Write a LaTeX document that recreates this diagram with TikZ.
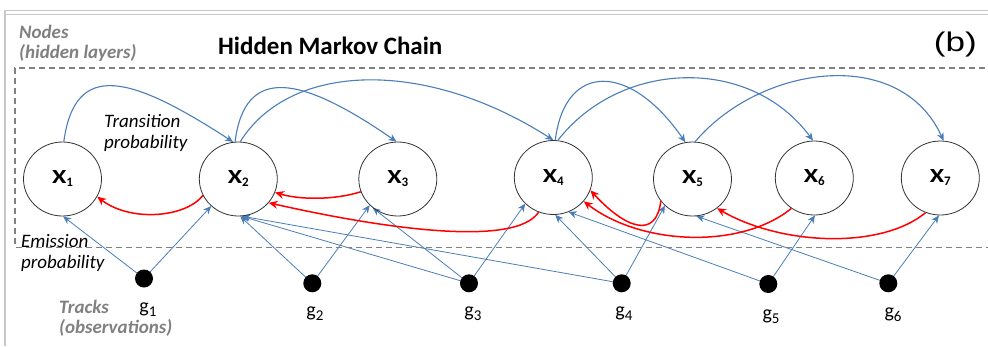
\documentclass[tikz,border=0pt]{standalone}
\usepackage{fontspec}
\setmainfont{Carlito}
\newfontfamily\arialf{Liberation Sans}
\usetikzlibrary{shapes.geometric,arrows.meta}
\pgfdeclarelayer{bg}
\pgfsetlayers{bg,main}
\definecolor{arrowblue}{HTML}{4A7EBB}
\definecolor{hmmred}{HTML}{FF0000}
\definecolor{labelgray}{HTML}{808080}
\definecolor{framegray}{HTML}{C8C8C8}
\newcommand\xlab[1]{\scalebox{1.3}[1]{\bfseries X}\raisebox{-3pt}{\fontsize{13}{13}\selectfont\bfseries #1}}
\newcommand\glab[1]{g\raisebox{-4pt}{\fontsize{15}{15}\selectfont #1}}
\begin{document}
\begin{tikzpicture}[x=1pt,y=-1pt,
  hid/.style={draw=black!80, line width=0.8pt, ellipse, minimum width=78pt, minimum height=74pt, inner sep=0pt, font=\fontsize{20}{20}\selectfont},
  obs/.style={circle, fill=black, minimum size=18pt, inner sep=0pt},
  trans/.style={draw=arrowblue, line width=1.1pt, -{Stealth[length=8pt,width=7pt,inset=2.5pt]}},
  emit/.style={draw=arrowblue, line width=0.8pt, -{Stealth[length=8pt,width=7pt,inset=2.5pt]}},
  back/.style={draw=hmmred, line width=1.5pt, -{Stealth[length=9pt,width=8pt,inset=3pt]}},
  glabel/.style={font=\fontsize{20}{20}\selectfont, inner sep=0pt, anchor=base},
  graytxt/.style={font=\fontsize{19}{20}\selectfont\bfseries\itshape, text=labelgray, inner sep=0pt, anchor=base west, align=left},
  blacktxt/.style={font=\fontsize{19}{20.5}\selectfont\itshape, inner sep=0pt, anchor=base west, align=left}]
\useasboundingbox (0,0) rectangle (988,346);
\begin{pgfonlayer}{bg}
\fill[white] (0,0) rectangle (988,346);
\end{pgfonlayer}
% outer frame
\draw[framegray, line width=1.6pt] (5,346) -- (5,10.5) -- (988,10.5);
\draw[framegray, line width=1.2pt] (6,14.5) -- (988,14.5);
% dashed region
\draw[labelgray, line width=1.3pt, dash pattern=on 6pt off 4pt] (995,68) -- (15,68) -- (15,247.3) -- (995,247.3);

% texts (base anchor = baseline of the last line)
\node[graytxt] (nodes) at (19,58) {Nodes\\(hidden layers)};
\node[font=\fontsize{25}{25}\selectfont\bfseries, inner sep=0pt, anchor=base west] (title) at (218,54.3) {Hidden Markov Chain};
\node[font=\arialf\fontsize{27}{27}\selectfont, inner sep=0pt, anchor=base east] (panel) at (977,51) {\scalebox{1.3}[1]{(b)}};
\node[blacktxt] (trans) at (104,148) {Transition\\probability};
\node[blacktxt] (emis) at (21,268) {Emission\\probability};
\node[graytxt] (tracks) at (59,333) {Tracks\\(observations)};

% hidden nodes
\node[hid] (X1) at (62.5,179) {\xlab{1}};
\node[hid] (X2) at (238.3,179) {\xlab{2}};
\node[hid] (X3) at (397.8,179) {\xlab{3}};
\node[hid] (X4) at (553.3,177.5) {\xlab{4}};
\node[hid] (X5) at (692.5,179) {\xlab{5}};
\node[hid] (X6) at (814.3,178) {\xlab{6}};
\node[hid] (X7) at (940.3,178) {\xlab{7}};

% observations
\node[obs] (g1) at (144,278.5) {};
\node[obs] (g2) at (312.3,283.3) {};
\node[obs] (g3) at (469,283.3) {};
\node[obs] (g4) at (621.7,283.3) {};
\node[obs] (g5) at (768.3,284) {};
\node[obs] (g6) at (888.3,283.3) {};
\node[glabel] (l1) at (148,312.5) {\glab{1}};
\node[glabel] (l2) at (315,316) {\glab{2}};
\node[glabel] (l3) at (473,316) {\glab{3}};
\node[glabel] (l4) at (624,316) {\glab{4}};
\node[glabel] (l5) at (771,319) {\glab{5}};
\node[glabel] (l6) at (893,317) {\glab{6}};

\begin{pgfonlayer}{bg}
% emissions
\draw[emit] (g1.center) -- (X1.-89);
\draw[emit] (g1.center) -- (X2.-135);
\draw[emit] (g2.center) -- (X2.-87);
\draw[emit] (g3.center) -- (X2.-85);
\draw[emit] (g4.center) -- (X2.-84);
\draw[emit] (g2.center) -- (X3.-137);
\draw[emit] (g3.center) -- (X3.-131);
\draw[emit] (g3.center) -- (X4.-137);
\draw[emit] (g4.center) -- (X4.-87);
\draw[emit] (g5.center) -- (X4.-66);
\draw[emit] (g4.center) -- (X5.-136);
\draw[emit] (g6.center) -- (X5.-84);
\draw[emit] (g5.center) -- (X6.-89);
\draw[emit] (g6.center) -- (X7.-92);
\end{pgfonlayer}

% transitions
\draw[trans] (X1.88) .. controls (75,60) and (130,75) .. (X2.98);
\draw[trans] (X2.95) .. controls (245,65) and (300,75) .. (X3.92);
\draw[trans] (X2.87) .. controls (290,62) and (425,58) .. (X4.90);
\draw[trans] (X4.87) .. controls (565,62) and (630,62) .. (X5.101);
\draw[trans] (X4.83) .. controls (620,60) and (750,55) .. (X6.92);
\draw[trans] (X5.86) .. controls (760,65) and (900,45) .. (X7.85);

% backward (red)
\draw[back] (X2.-155) .. controls (185,218) and (130,222) .. (X1.-27);
\draw[back] (X3.-161) .. controls (335,200) and (300,200) .. (X2.-20);
\draw[back] (X4.-113) .. controls (515,248) and (380,228) .. (X2.-38);
\draw[back] (X5.-145) .. controls (656,240) and (625,228) .. (X4.-19);
\draw[back] (X6.-127) .. controls (740,250) and (640,245) .. (X4.-38);
\draw[back] (X7.-113) .. controls (880,250) and (780,245) .. (X5.-50);
\end{tikzpicture}
\end{document}
